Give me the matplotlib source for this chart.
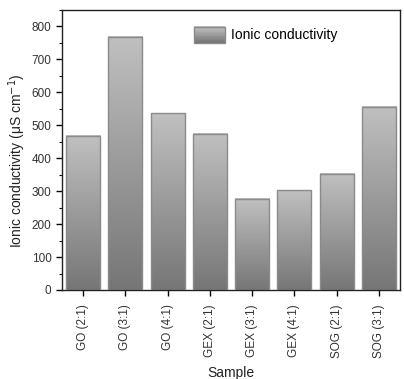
import numpy as np
import matplotlib
matplotlib.use("Agg")
import matplotlib.pyplot as plt
from matplotlib.patches import Rectangle
from matplotlib.legend_handler import HandlerBase
from matplotlib.colors import LinearSegmentedColormap
from matplotlib.ticker import MultipleLocator

plt.rcParams['font.family'] = ['Liberation Sans', 'DejaVu Sans']

samples = ["GO (2:1)", "GO (3:1)", "GO (4:1)", "GEX (2:1)",
           "GEX (3:1)", "GEX (4:1)", "SOG (2:1)", "SOG (3:1)"]
conductivity = [468, 769, 536, 474, 277, 303, 353, 556]

top_gray = "#c0c0c0"
bottom_gray = "#767676"
edge_gray = "#8a8a8a"
cmap = LinearSegmentedColormap.from_list("bar_grad", [bottom_gray, top_gray])

fig = plt.figure(figsize=(4.04, 3.79), dpi=100)
ax = fig.add_axes([62 / 404, 1 - 290 / 379, 338 / 404, 280 / 379])

x = np.arange(len(samples))
bars = ax.bar(x, conductivity, width=0.81, facecolor="none",
              edgecolor=edge_gray, linewidth=1.0, zorder=3)

grad = np.linspace(0, 1, 256).reshape(-1, 1)
for b in bars:
    x0, w, h = b.get_x(), b.get_width(), b.get_height()
    ax.imshow(grad, cmap=cmap, origin="lower", aspect="auto",
              extent=(x0, x0 + w, 0, h), zorder=2, interpolation="bicubic")

ax.set_xlim(-0.5, 7.5)
ax.set_ylim(0, 850)


class GradientHandler(HandlerBase):
    def create_artists(self, legend, orig_handle, xdescent, ydescent,
                       width, height, fontsize, trans):
        n = 20
        artists = []
        for i in range(n):
            c = cmap(i / (n - 1))
            r = Rectangle((-xdescent, -ydescent + height * i / n), width,
                          height / n + 0.3, facecolor=c, edgecolor="none",
                          transform=trans)
            artists.append(r)
        frame = Rectangle((-xdescent, -ydescent), width, height,
                          facecolor="none", edgecolor=edge_gray, lw=1.0,
                          transform=trans)
        artists.append(frame)
        return artists


ax.legend([bars[0]], ["Ionic conductivity"], handler_map={bars[0]: GradientHandler()},
          loc="upper left", bbox_to_anchor=(0.355, 0.985), frameon=False,
          fontsize=10, handlelength=2.2, handleheight=1.4, handletextpad=0.4)

ax.set_xticks(x)
ax.set_xticklabels(samples, rotation=90, fontsize=8.5, color="#333333")
ax.yaxis.set_major_locator(MultipleLocator(100))
ax.yaxis.set_minor_locator(MultipleLocator(50))
ax.tick_params(axis="both", which="major", direction="out", length=4, width=1,
               labelsize=8.5, labelcolor="#333333")
ax.tick_params(axis="y", which="minor", direction="out", length=2.5, width=0.8)
ax.tick_params(axis="x", pad=6)

for s in ax.spines.values():
    s.set_linewidth(1.0)
    s.set_color("#222222")

ax.set_ylabel("Ionic conductivity (μS cm$^{-1}$)", fontsize=10, color="#222222")
ax.yaxis.set_label_coords(-0.10, 0.46)
ax.set_xlabel("Sample", fontsize=10, color="#222222", labelpad=6)

fig.savefig("out.png", dpi=100)
